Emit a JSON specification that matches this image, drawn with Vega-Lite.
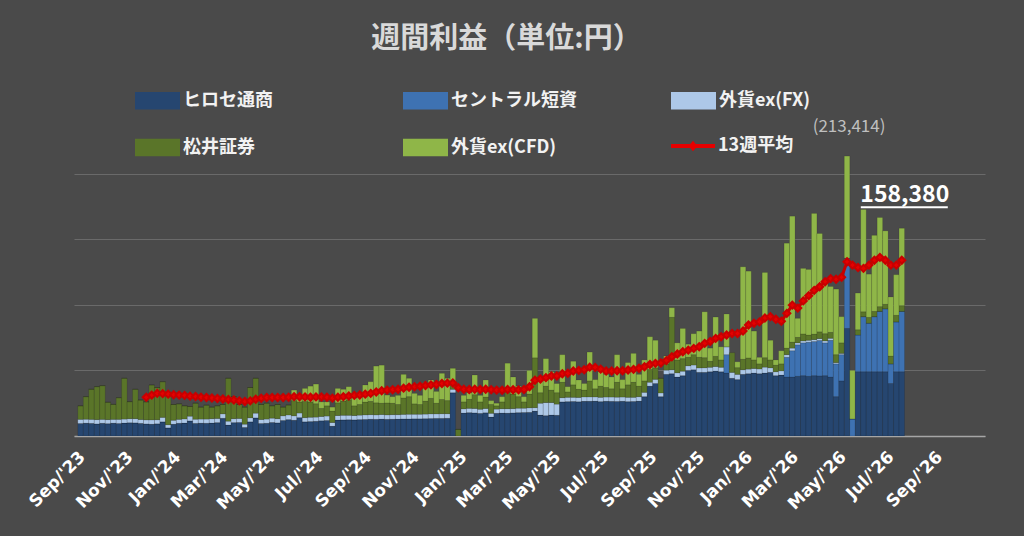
{
  "$schema": "https://vega.github.io/schema/vega-lite/v6.json",
  "width": 911,
  "height": 282,
  "autosize": {"type": "none"},
  "padding": {"left": 74, "top": 154, "right": 39, "bottom": 100},
  "background": "#4a4a4a",
  "title": {
    "text": "週間利益（単位:円）",
    "anchor": "middle",
    "frame": "group",
    "offset": 24,
    "dx": -23,
    "font": "Noto Sans CJK JP",
    "fontSize": 29,
    "fontWeight": "bold",
    "color": "#d9d9d9"
  },
  "datasets": {
    "series": [
      {"series": "h", "o": 1},
      {"series": "c", "o": 2},
      {"series": "fx", "o": 3},
      {"series": "m", "o": 4},
      {"series": "cfd", "o": 5}
    ],
    "weeks": [
      {"week": "2023-08-30", "h": 9500, "c": 0, "fx": 3200, "m": 10300, "cfd": 0},
      {"week": "2023-09-06", "h": 9800, "c": 0, "fx": 3000, "m": 17200, "cfd": 0},
      {"week": "2023-09-13", "h": 9600, "c": 0, "fx": 3100, "m": 22900, "cfd": 0},
      {"week": "2023-09-20", "h": 9200, "c": 0, "fx": 3300, "m": 25100, "cfd": 0},
      {"week": "2023-09-27", "h": 9700, "c": 0, "fx": 3000, "m": 25700, "cfd": 0},
      {"week": "2023-10-04", "h": 9400, "c": 0, "fx": 3100, "m": 13200, "cfd": 0},
      {"week": "2023-10-11", "h": 9800, "c": 0, "fx": 2900, "m": 11400, "cfd": 0},
      {"week": "2023-10-18", "h": 9500, "c": 0, "fx": 3200, "m": 16500, "cfd": 0},
      {"week": "2023-10-25", "h": 9900, "c": 0, "fx": 3000, "m": 31100, "cfd": 0},
      {"week": "2023-11-01", "h": 10100, "c": 0, "fx": 3100, "m": 13000, "cfd": 0},
      {"week": "2023-11-08", "h": 10000, "c": 0, "fx": 3200, "m": 22400, "cfd": 0},
      {"week": "2023-11-15", "h": 9600, "c": 0, "fx": 3000, "m": 14800, "cfd": 0},
      {"week": "2023-11-22", "h": 9200, "c": 0, "fx": 3100, "m": 13700, "cfd": 0, "ma": 29500},
      {"week": "2023-11-29", "h": 9000, "c": 0, "fx": 3300, "m": 26600, "cfd": 0, "ma": 31200},
      {"week": "2023-12-06", "h": 9300, "c": 0, "fx": 3100, "m": 24600, "cfd": 0, "ma": 32500},
      {"week": "2023-12-13", "h": 10800, "c": 0, "fx": 3400, "m": 27200, "cfd": 0, "ma": 32300},
      {"week": "2023-12-20", "h": 6200, "c": 0, "fx": 2400, "m": 22400, "cfd": 0, "ma": 31900},
      {"week": "2023-12-27", "h": 9000, "c": 0, "fx": 3000, "m": 12000, "cfd": 0, "ma": 31500},
      {"week": "2024-01-03", "h": 9700, "c": 0, "fx": 3000, "m": 11800, "cfd": 0, "ma": 31200},
      {"week": "2024-01-10", "h": 9900, "c": 0, "fx": 3100, "m": 10000, "cfd": 0, "ma": 31000},
      {"week": "2024-01-17", "h": 11500, "c": 0, "fx": 3600, "m": 7400, "cfd": 0, "ma": 30400},
      {"week": "2024-01-24", "h": 9600, "c": 0, "fx": 3200, "m": 12200, "cfd": 0, "ma": 30100},
      {"week": "2024-01-31", "h": 9800, "c": 0, "fx": 3100, "m": 9100, "cfd": 0, "ma": 29600},
      {"week": "2024-02-07", "h": 9700, "c": 0, "fx": 3200, "m": 10600, "cfd": 0, "ma": 29300},
      {"week": "2024-02-14", "h": 9900, "c": 0, "fx": 3300, "m": 8800, "cfd": 0, "ma": 29000},
      {"week": "2024-02-21", "h": 10200, "c": 0, "fx": 3200, "m": 9600, "cfd": 0, "ma": 28600},
      {"week": "2024-02-28", "h": 13500, "c": 0, "fx": 3400, "m": 7100, "cfd": 0, "ma": 28200},
      {"week": "2024-03-06", "h": 8400, "c": 0, "fx": 2900, "m": 32700, "cfd": 0, "ma": 27800},
      {"week": "2024-03-13", "h": 10200, "c": 0, "fx": 3000, "m": 16800, "cfd": 0, "ma": 27400},
      {"week": "2024-03-20", "h": 10300, "c": 0, "fx": 3100, "m": 10600, "cfd": 0, "ma": 26800},
      {"week": "2024-03-27", "h": 6500, "c": 0, "fx": 2500, "m": 13000, "cfd": 0, "ma": 26300},
      {"week": "2024-04-03", "h": 10800, "c": 0, "fx": 3100, "m": 23100, "cfd": 0, "ma": 26800},
      {"week": "2024-04-10", "h": 13800, "c": 0, "fx": 3600, "m": 26600, "cfd": 0, "ma": 28000},
      {"week": "2024-04-17", "h": 9500, "c": 0, "fx": 3100, "m": 11400, "cfd": 0, "ma": 28800},
      {"week": "2024-04-24", "h": 9700, "c": 0, "fx": 3200, "m": 12100, "cfd": 0, "ma": 29300},
      {"week": "2024-05-01", "h": 10300, "c": 0, "fx": 3300, "m": 9400, "cfd": 0, "ma": 29300},
      {"week": "2024-05-08", "h": 10000, "c": 0, "fx": 3200, "m": 10800, "cfd": 0, "ma": 29400},
      {"week": "2024-05-15", "h": 11800, "c": 0, "fx": 3600, "m": 6600, "cfd": 0, "ma": 29300},
      {"week": "2024-05-22", "h": 12500, "c": 0, "fx": 3500, "m": 7600, "cfd": 0, "ma": 29600},
      {"week": "2024-05-29", "h": 12000, "c": 0, "fx": 3400, "m": 11600, "cfd": 8000, "ma": 30000},
      {"week": "2024-06-05", "h": 14000, "c": 0, "fx": 3500, "m": 8500, "cfd": 5000, "ma": 29900},
      {"week": "2024-06-12", "h": 10800, "c": 0, "fx": 3200, "m": 12300, "cfd": 10000, "ma": 29800},
      {"week": "2024-06-19", "h": 11000, "c": 0, "fx": 3300, "m": 11700, "cfd": 12000, "ma": 29600},
      {"week": "2024-06-26", "h": 11200, "c": 0, "fx": 3200, "m": 10200, "cfd": 15000, "ma": 29800},
      {"week": "2024-07-03", "h": 11600, "c": 0, "fx": 3300, "m": 6100, "cfd": 5000, "ma": 29700},
      {"week": "2024-07-10", "h": 11800, "c": 0, "fx": 3400, "m": 7800, "cfd": 3000, "ma": 29500},
      {"week": "2024-07-17", "h": 7500, "c": 0, "fx": 2800, "m": 8700, "cfd": 3000, "ma": 28900},
      {"week": "2024-07-24", "h": 12200, "c": 0, "fx": 3400, "m": 9700, "cfd": 11000, "ma": 29600},
      {"week": "2024-07-31", "h": 12300, "c": 0, "fx": 3500, "m": 10800, "cfd": 9000, "ma": 30000},
      {"week": "2024-08-07", "h": 12400, "c": 0, "fx": 3400, "m": 11800, "cfd": 10000, "ma": 30500},
      {"week": "2024-08-14", "h": 12300, "c": 0, "fx": 3300, "m": 7400, "cfd": 6000, "ma": 31000},
      {"week": "2024-08-21", "h": 12500, "c": 0, "fx": 3400, "m": 8100, "cfd": 6000, "ma": 31300},
      {"week": "2024-08-28", "h": 12600, "c": 0, "fx": 3500, "m": 9800, "cfd": 13000, "ma": 31900},
      {"week": "2024-09-04", "h": 12800, "c": 0, "fx": 3500, "m": 10100, "cfd": 15000, "ma": 32500},
      {"week": "2024-09-11", "h": 12700, "c": 0, "fx": 3400, "m": 9200, "cfd": 28000, "ma": 33600},
      {"week": "2024-09-18", "h": 12900, "c": 0, "fx": 3500, "m": 8600, "cfd": 29000, "ma": 34500},
      {"week": "2024-09-25", "h": 12700, "c": 0, "fx": 3400, "m": 9100, "cfd": 6000, "ma": 35000},
      {"week": "2024-10-02", "h": 12800, "c": 0, "fx": 3500, "m": 8700, "cfd": 5000, "ma": 35300},
      {"week": "2024-10-09", "h": 12900, "c": 0, "fx": 3400, "m": 7700, "cfd": 7000, "ma": 35600},
      {"week": "2024-10-16", "h": 13000, "c": 0, "fx": 3500, "m": 12500, "cfd": 18000, "ma": 36500},
      {"week": "2024-10-23", "h": 13000, "c": 0, "fx": 3600, "m": 13400, "cfd": 14000, "ma": 37200},
      {"week": "2024-10-30", "h": 13100, "c": 0, "fx": 3500, "m": 7900, "cfd": 8000, "ma": 37600},
      {"week": "2024-11-06", "h": 13100, "c": 0, "fx": 3500, "m": 7400, "cfd": 7000, "ma": 37900},
      {"week": "2024-11-13", "h": 13200, "c": 0, "fx": 3500, "m": 9900, "cfd": 14000, "ma": 38500},
      {"week": "2024-11-20", "h": 13300, "c": 0, "fx": 3600, "m": 11800, "cfd": 14000, "ma": 39000},
      {"week": "2024-11-27", "h": 13400, "c": 0, "fx": 3500, "m": 8100, "cfd": 9000, "ma": 39300},
      {"week": "2024-12-04", "h": 13400, "c": 0, "fx": 3600, "m": 10800, "cfd": 20000, "ma": 40000},
      {"week": "2024-12-11", "h": 13500, "c": 0, "fx": 3500, "m": 10000, "cfd": 17000, "ma": 40300},
      {"week": "2024-12-18", "h": 33000, "c": 0, "fx": 2600, "m": 4000, "cfd": 12000, "ma": 40400},
      {"week": "2024-12-25", "h": 0, "c": 0, "fx": 0, "m": 5000, "cfd": 0, "ma": 36800},
      {"week": "2025-01-01", "h": 17500, "c": 0, "fx": 3200, "m": 5300, "cfd": 5000, "ma": 35600},
      {"week": "2025-01-08", "h": 17800, "c": 0, "fx": 3300, "m": 6900, "cfd": 5000, "ma": 35500},
      {"week": "2025-01-15", "h": 17600, "c": 0, "fx": 3400, "m": 10500, "cfd": 15000, "ma": 35700},
      {"week": "2025-01-22", "h": 17200, "c": 0, "fx": 3200, "m": 5600, "cfd": 5000, "ma": 35400},
      {"week": "2025-01-29", "h": 17700, "c": 0, "fx": 3300, "m": 8700, "cfd": 13000, "ma": 35600},
      {"week": "2025-02-05", "h": 14500, "c": 0, "fx": 2800, "m": 6700, "cfd": 3000, "ma": 35300},
      {"week": "2025-02-12", "h": 17300, "c": 0, "fx": 3200, "m": 2500, "cfd": 2000, "ma": 35000},
      {"week": "2025-02-19", "h": 17500, "c": 0, "fx": 3300, "m": 5200, "cfd": 4000, "ma": 34900},
      {"week": "2025-02-26", "h": 17400, "c": 0, "fx": 3400, "m": 12700, "cfd": 22000, "ma": 35400},
      {"week": "2025-03-05", "h": 17600, "c": 0, "fx": 3300, "m": 11100, "cfd": 13000, "ma": 35300},
      {"week": "2025-03-12", "h": 17800, "c": 0, "fx": 3400, "m": 8800, "cfd": 8000, "ma": 35200},
      {"week": "2025-03-19", "h": 17900, "c": 0, "fx": 3300, "m": 4800, "cfd": 4000, "ma": 35500},
      {"week": "2025-03-26", "h": 18000, "c": 0, "fx": 3500, "m": 10500, "cfd": 18000, "ma": 37500},
      {"week": "2025-04-02", "h": 19000, "c": 0, "fx": 2600, "m": 38000, "cfd": 30100, "ma": 42500},
      {"week": "2025-04-09", "h": 16000, "c": 0, "fx": 9000, "m": 8000, "cfd": 12000, "ma": 43500},
      {"week": "2025-04-16", "h": 15500, "c": 0, "fx": 10000, "m": 12500, "cfd": 21000, "ma": 44500},
      {"week": "2025-04-23", "h": 16000, "c": 0, "fx": 9500, "m": 9500, "cfd": 14000, "ma": 45800},
      {"week": "2025-04-30", "h": 15800, "c": 0, "fx": 8500, "m": 8700, "cfd": 7000, "ma": 45800},
      {"week": "2025-05-07", "h": 26000, "c": 0, "fx": 3200, "m": 11800, "cfd": 21000, "ma": 47500},
      {"week": "2025-05-14", "h": 26200, "c": 0, "fx": 3300, "m": 4100, "cfd": 4000, "ma": 47800},
      {"week": "2025-05-21", "h": 26300, "c": 0, "fx": 3200, "m": 9500, "cfd": 18000, "ma": 49500},
      {"week": "2025-05-28", "h": 26100, "c": 0, "fx": 3300, "m": 6300, "cfd": 7000, "ma": 50000},
      {"week": "2025-06-04", "h": 26400, "c": 0, "fx": 3400, "m": 5200, "cfd": 5000, "ma": 50500},
      {"week": "2025-06-11", "h": 26500, "c": 0, "fx": 3300, "m": 12200, "cfd": 22000, "ma": 52500},
      {"week": "2025-06-18", "h": 26600, "c": 0, "fx": 3200, "m": 6200, "cfd": 7000, "ma": 52300},
      {"week": "2025-06-25", "h": 26200, "c": 0, "fx": 3300, "m": 8500, "cfd": 11000, "ma": 51000},
      {"week": "2025-07-02", "h": 26500, "c": 0, "fx": 3200, "m": 7300, "cfd": 10000, "ma": 49500},
      {"week": "2025-07-09", "h": 26400, "c": 0, "fx": 3300, "m": 6300, "cfd": 9000, "ma": 49500},
      {"week": "2025-07-16", "h": 26300, "c": 0, "fx": 3300, "m": 11400, "cfd": 21000, "ma": 49800},
      {"week": "2025-07-23", "h": 26500, "c": 0, "fx": 3200, "m": 6300, "cfd": 7000, "ma": 49700},
      {"week": "2025-07-30", "h": 26200, "c": 0, "fx": 3300, "m": 9500, "cfd": 17000, "ma": 50300},
      {"week": "2025-08-06", "h": 26300, "c": 0, "fx": 3200, "m": 11500, "cfd": 22000, "ma": 50800},
      {"week": "2025-08-13", "h": 26600, "c": 0, "fx": 3400, "m": 8000, "cfd": 9000, "ma": 51600},
      {"week": "2025-08-20", "h": 30000, "c": 0, "fx": 3300, "m": 8700, "cfd": 16000, "ma": 52800},
      {"week": "2025-08-27", "h": 38000, "c": 0, "fx": 3000, "m": 9700, "cfd": 25000, "ma": 54500},
      {"week": "2025-09-03", "h": 40000, "c": 0, "fx": 3200, "m": 8800, "cfd": 21000, "ma": 55400},
      {"week": "2025-09-10", "h": 30000, "c": 0, "fx": 2800, "m": 11200, "cfd": 0, "ma": 55600},
      {"week": "2025-09-17", "h": 47000, "c": 0, "fx": 3200, "m": 4800, "cfd": 6000, "ma": 57500},
      {"week": "2025-09-24", "h": 47500, "c": 0, "fx": 3000, "m": 40000, "cfd": 7300, "ma": 60400},
      {"week": "2025-10-01", "h": 45000, "c": 0, "fx": 3200, "m": 9800, "cfd": 13000, "ma": 62500},
      {"week": "2025-10-08", "h": 46000, "c": 0, "fx": 3400, "m": 9600, "cfd": 23000, "ma": 64200},
      {"week": "2025-10-15", "h": 50000, "c": 0, "fx": 3500, "m": 6500, "cfd": 10000, "ma": 65500},
      {"week": "2025-10-22", "h": 50500, "c": 0, "fx": 3600, "m": 7900, "cfd": 16000, "ma": 66800},
      {"week": "2025-10-29", "h": 48500, "c": 0, "fx": 3400, "m": 8100, "cfd": 20000, "ma": 68000},
      {"week": "2025-11-05", "h": 48500, "c": 0, "fx": 3500, "m": 7700, "cfd": 35000, "ma": 70600},
      {"week": "2025-11-12", "h": 49000, "c": 0, "fx": 3400, "m": 4600, "cfd": 10000, "ma": 72000},
      {"week": "2025-11-19", "h": 49500, "c": 0, "fx": 3500, "m": 7700, "cfd": 30000, "ma": 74400},
      {"week": "2025-11-26", "h": 49000, "c": 0, "fx": 3400, "m": 5600, "cfd": 10000, "ma": 75700},
      {"week": "2025-12-03", "h": 48000, "c": 14000, "fx": 6000, "m": 0, "cfd": 25000, "ma": 77000},
      {"week": "2025-12-10", "h": 44000, "c": 0, "fx": 4500, "m": 15000, "cfd": -1500, "ma": 78200},
      {"week": "2025-12-17", "h": 43000, "c": 0, "fx": 4000, "m": 5100, "cfd": 4500, "ma": 78200},
      {"week": "2025-12-24", "h": 47000, "c": 0, "fx": 3500, "m": 8000, "cfd": 70500, "ma": 80000},
      {"week": "2025-12-31", "h": 47500, "c": 0, "fx": 3500, "m": 8500, "cfd": 66200, "ma": 84600},
      {"week": "2026-01-07", "h": 48000, "c": 0, "fx": 3500, "m": 6500, "cfd": 22000, "ma": 86000},
      {"week": "2026-01-14", "h": 47500, "c": 0, "fx": 3600, "m": 3900, "cfd": 5000, "ma": 87000},
      {"week": "2026-01-21", "h": 48000, "c": 0, "fx": 4500, "m": 7200, "cfd": 65000, "ma": 90000},
      {"week": "2026-01-28", "h": 48500, "c": 0, "fx": 3500, "m": 6000, "cfd": 15000, "ma": 91000},
      {"week": "2026-02-04", "h": 46000, "c": 0, "fx": 3000, "m": 5000, "cfd": 4000, "ma": 89000},
      {"week": "2026-02-11", "h": 46500, "c": 0, "fx": 3200, "m": 5300, "cfd": 10000, "ma": 87500},
      {"week": "2026-02-18", "h": 45000, "c": 15000, "fx": 2000, "m": 5000, "cfd": 80000, "ma": 93500},
      {"week": "2026-02-25", "h": 45000, "c": 20000, "fx": 2000, "m": 4600, "cfd": 96000, "ma": 99800},
      {"week": "2026-03-04", "h": 45500, "c": 24000, "fx": 1500, "m": 4200, "cfd": 14500, "ma": 97500},
      {"week": "2026-03-11", "h": 46000, "c": 25000, "fx": 1500, "m": 5300, "cfd": 50000, "ma": 103000},
      {"week": "2026-03-18", "h": 45500, "c": 26000, "fx": 1500, "m": 4000, "cfd": 50000, "ma": 107000},
      {"week": "2026-03-25", "h": 46000, "c": 26000, "fx": 1500, "m": 4200, "cfd": 92000, "ma": 111000},
      {"week": "2026-04-01", "h": 45800, "c": 27000, "fx": 1500, "m": 5100, "cfd": 75000, "ma": 113800},
      {"week": "2026-04-08", "h": 46000, "c": 25000, "fx": 1500, "m": 5500, "cfd": 40000, "ma": 117600},
      {"week": "2026-04-15", "h": 45000, "c": 28000, "fx": 1500, "m": 4500, "cfd": 35000, "ma": 120000},
      {"week": "2026-04-22", "h": 30000, "c": 25000, "fx": 1000, "m": 6000, "cfd": 50000, "ma": 119500},
      {"week": "2026-04-29", "h": 42000, "c": 20000, "fx": 1000, "m": 8000, "cfd": 20000, "ma": 121000},
      {"week": "2026-05-06", "h": 82000, "c": 53500, "fx": 0, "m": 0, "cfd": 77914, "ma": 132800},
      {"week": "2026-05-13", "h": -15000, "c": 13000, "fx": 0, "m": 0, "cfd": 37000, "ma": 130300},
      {"week": "2026-05-20", "h": 49000, "c": 28000, "fx": 0, "m": 4000, "cfd": 28000, "ma": 128500},
      {"week": "2026-05-27", "h": 49000, "c": 42000, "fx": 0, "m": 3700, "cfd": 78000, "ma": 127800},
      {"week": "2026-06-03", "h": 49000, "c": 37000, "fx": 0, "m": 4400, "cfd": 33000, "ma": 130300},
      {"week": "2026-06-10", "h": 49000, "c": 42000, "fx": 0, "m": 4000, "cfd": 58000, "ma": 134000},
      {"week": "2026-06-17", "h": 49000, "c": 46000, "fx": 0, "m": 3600, "cfd": 68000, "ma": 136200},
      {"week": "2026-06-24", "h": 49000, "c": 48000, "fx": 0, "m": 3400, "cfd": 56000, "ma": 134000},
      {"week": "2026-07-01", "h": 40000, "c": 15000, "fx": 0, "m": 6000, "cfd": 45000, "ma": 130300},
      {"week": "2026-07-08", "h": 49000, "c": 38000, "fx": 0, "m": 5000, "cfd": 31000, "ma": 130300},
      {"week": "2026-07-15", "h": 49000, "c": 46000, "fx": 0, "m": 4380, "cfd": 59000, "ma": 134000}
    ]
  },
  "layer": [
    {
      "data": {"name": "weeks"},
      "transform": [
        {"fold": ["h", "c", "fx", "m", "cfd"], "as": ["series", "value"]},
        {"lookup": "series", "from": {"data": {"name": "series"}, "key": "series", "fields": ["o"]}}
      ],
      "mark": {"type": "bar", "size": 5.5, "clip": true, "stroke": "#000000", "strokeOpacity": 0.22, "strokeWidth": 0.5},
      "encoding": {
        "x": {
          "field": "week",
          "type": "temporal",
          "scale": {"domain": ["2023-08-28", "2026-10-23"]},
          "axis": {
            "values": [
              {"year": 2023, "month": 9, "date": 1}, {"year": 2023, "month": 11, "date": 1},
              {"year": 2024, "month": 1, "date": 1}, {"year": 2024, "month": 3, "date": 1},
              {"year": 2024, "month": 5, "date": 1}, {"year": 2024, "month": 7, "date": 1},
              {"year": 2024, "month": 9, "date": 1}, {"year": 2024, "month": 11, "date": 1},
              {"year": 2025, "month": 1, "date": 1}, {"year": 2025, "month": 3, "date": 1},
              {"year": 2025, "month": 5, "date": 1}, {"year": 2025, "month": 7, "date": 1},
              {"year": 2025, "month": 9, "date": 1}, {"year": 2025, "month": 11, "date": 1},
              {"year": 2026, "month": 1, "date": 1}, {"year": 2026, "month": 3, "date": 1},
              {"year": 2026, "month": 5, "date": 1}, {"year": 2026, "month": 7, "date": 1},
              {"year": 2026, "month": 9, "date": 1}
            ],
            "format": "%b/'%y",
            "title": null,
            "grid": false,
            "ticks": false,
            "labelAngle": -45,
            "labelAlign": "right",
            "labelBaseline": "middle",
            "labelPadding": 18,
            "labelFont": "DejaVu Sans",
            "labelFontSize": 17,
            "labelFontWeight": "bold",
            "labelColor": "#ffffff",
            "labelOverlap": false,
            "labelFlush": false,
            "domainColor": "#a6a6a6",
            "domainWidth": 1.5
          }
        },
        "y": {
          "field": "value",
          "type": "quantitative",
          "stack": "zero",
          "scale": {"domain": [0, 215000], "nice": false},
          "axis": {
            "values": [0, 50000, 100000, 150000, 200000],
            "labels": false,
            "ticks": false,
            "domain": false,
            "grid": true,
            "gridColor": "#6a6a6a",
            "gridWidth": 1,
            "title": null
          }
        },
        "color": {
          "field": "series",
          "type": "nominal",
          "scale": {
            "domain": ["h", "c", "fx", "m", "cfd"],
            "range": ["#264670", "#3e72b2", "#adc8e8", "#5a7529", "#8fb648"]
          },
          "legend": {
            "orient": "none",
            "legendX": 61,
            "legendY": -76,
            "direction": "horizontal",
            "columns": 3,
            "gridAlign": "all",
            "columnPadding": 94,
            "rowPadding": 15,
            "title": null,
            "symbolType": "M-1,-0.39H1V0.39H-1Z",
            "symbolSize": 2025,
            "symbolStrokeWidth": 0,
            "labelFont": "Noto Sans CJK JP",
            "labelFontSize": 18,
            "labelFontWeight": "bold",
            "labelColor": "#f2f2f2",
            "labelOffset": 3,
            "labelExpr": "datum.label == 'h' ? 'ヒロセ通商' : datum.label == 'c' ? 'セントラル短資' : datum.label == 'fx' ? '外貨ex(FX)' : datum.label == 'm' ? '松井証券' : '外貨ex(CFD)'"
          }
        },
        "order": {"field": "o", "type": "quantitative"}
      }
    },
    {
      "data": {"name": "weeks"},
      "transform": [{"filter": "isValid(datum.ma)"}],
      "mark": {
        "type": "line",
        "strokeWidth": 3,
        "point": {"shape": "diamond", "filled": true, "size": 50, "color": "#e60000"}
      },
      "encoding": {
        "x": {"field": "week", "type": "temporal"},
        "y": {"field": "ma", "type": "quantitative"},
        "stroke": {
          "datum": "13週平均",
          "type": "nominal",
          "scale": {"range": ["#c80000"]},
          "legend": {
            "orient": "none",
            "legendX": 597,
            "legendY": -30,
            "title": null,
            "symbolType": "M-1,-0.09H1V0.09H-1Z M0,-0.24L0.2,0L0,0.24L-0.2,0Z",
            "symbolSize": 1936,
            "symbolFillColor": "#d40000",
            "symbolStrokeWidth": 0,
            "labelFont": "Noto Sans CJK JP",
            "labelFontSize": 18,
            "labelFontWeight": "bold",
            "labelColor": "#f2f2f2",
            "labelOffset": 3
          }
        }
      }
    },
    {
      "data": {"values": [{"week": "2026-05-06", "v": 213414, "t": "(213,414)"}]},
      "mark": {"type": "text", "dy": -29, "dx": 2, "font": "Noto Sans CJK JP", "fontSize": 17, "color": "#bfbfbf"},
      "encoding": {
        "x": {"field": "week", "type": "temporal"},
        "y": {"field": "v", "type": "quantitative"},
        "text": {"field": "t"}
      }
    },
    {
      "data": {"values": [{"week": "2026-07-15", "v": 158380, "t": "158,380"}]},
      "mark": {"type": "text", "dy": -33, "dx": 3, "font": "Noto Sans CJK JP", "fontSize": 23, "fontWeight": "bold", "color": "#ffffff"},
      "encoding": {
        "x": {"field": "week", "type": "temporal"},
        "y": {"field": "v", "type": "quantitative"},
        "text": {"field": "t"}
      }
    },
    {
      "data": {"values": [{"week": "2026-07-15", "v": 158380}]},
      "mark": {"type": "rule", "color": "#ffffff", "strokeWidth": 2, "xOffset": -41, "x2Offset": 46, "yOffset": -21},
      "encoding": {
        "x": {"field": "week", "type": "temporal"},
        "x2": {"field": "week"},
        "y": {"field": "v", "type": "quantitative"}
      }
    }
  ],
  "config": {
    "view": {"stroke": null}
  }
}
